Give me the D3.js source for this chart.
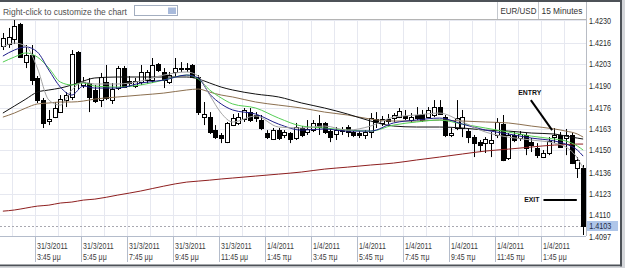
<!DOCTYPE html>
<html>
<head>
<meta charset="utf-8">
<script src="https://cdn.jsdelivr.net/npm/d3@7"></script>
<style>
body { margin: 0; background: #fff; }
svg { display: block; font-family: "Liberation Sans", Arial, sans-serif; }
</style>
</head>
<body>
<div id="chart"></div>
<script>
// 15 minute EUR/USD bars, 31/3/2011 2:15 pm .. 1/4/2011 3:30 pm
const opens = [1.42140,1.42152,1.42183,1.42275,1.42041,1.42084,1.41943,1.41807,1.41678,1.41702,
    1.41733,1.41807,1.41826,1.42103,1.41900,1.41912,1.41869,1.41807,1.41918,1.41807,
    1.41881,1.42004,1.41924,1.41893,1.41918,1.41930,1.41930,1.42029,1.41980,1.41918,
    1.41980,1.42004,1.41998,1.42023,1.41949,1.41702,1.41702,1.41622,1.41592,1.41548,
    1.41653,1.41666,1.41690,1.41733,1.41715,1.41684,1.41604,1.41567,1.41622,1.41592,
    1.41604,1.41573,1.41635,1.41610,1.41622,1.41666,1.41666,1.41616,1.41598,1.41629,
    1.41641,1.41610,1.41604,1.41592,1.41610,1.41690,1.41666,1.41690,1.41696,1.41702,
    1.41709,1.41684,1.41715,1.41721,1.41702,1.41715,1.41764,1.41702,1.41592,1.41635,
    1.41635,1.41616,1.41579,1.41548,1.41542,1.41542,1.41592,1.41659,1.41450,1.41592,
    1.41573,1.41592,1.41548,1.41512,1.41456,1.41481,1.41579,1.41592,1.41573,1.41592,
    1.41388,1.41388];
const highs = [1.42220,1.42251,1.42312,1.42282,1.42146,1.42146,1.41955,1.41820,1.41746,1.41795,
    1.41838,1.41856,1.42115,1.42109,1.41949,1.41943,1.41900,1.41974,1.42023,1.41912,
    1.42017,1.42017,1.41955,1.41943,1.42023,1.41992,1.42066,1.42035,1.42004,1.41980,
    1.42066,1.42041,1.42035,1.42029,1.41961,1.41795,1.41733,1.41653,1.41604,1.41672,
    1.41721,1.41727,1.41758,1.41758,1.41733,1.41715,1.41622,1.41635,1.41635,1.41622,
    1.41610,1.41666,1.41647,1.41684,1.41684,1.41715,1.41672,1.41629,1.41641,1.41641,
    1.41653,1.41622,1.41616,1.41622,1.41727,1.41733,1.41709,1.41721,1.41727,1.41758,
    1.41746,1.41727,1.41764,1.41746,1.41764,1.41807,1.41807,1.41715,1.41635,1.41807,
    1.41746,1.41635,1.41592,1.41561,1.41579,1.41610,1.41696,1.41715,1.41604,1.41616,
    1.41616,1.41604,1.41573,1.41542,1.41499,1.41579,1.41635,1.41610,1.41629,1.41604,
    1.41456,1.41407];
const lows = [1.42115,1.42128,1.42152,1.42066,1.42004,1.41900,1.41789,1.41635,1.41653,1.41696,
    1.41727,1.41764,1.41807,1.41869,1.41881,1.41733,1.41789,1.41764,1.41807,1.41783,
    1.41869,1.41881,1.41887,1.41881,1.41900,1.41906,1.41912,1.41980,1.41881,1.41906,
    1.41949,1.41980,1.41980,1.41943,1.41715,1.41653,1.41598,1.41567,1.41542,1.41542,
    1.41647,1.41653,1.41672,1.41672,1.41672,1.41622,1.41567,1.41561,1.41561,1.41573,
    1.41542,1.41561,1.41579,1.41592,1.41610,1.41592,1.41598,1.41548,1.41561,1.41592,
    1.41579,1.41579,1.41573,1.41567,1.41573,1.41635,1.41647,1.41659,1.41672,1.41696,
    1.41684,1.41666,1.41684,1.41672,1.41696,1.41702,1.41715,1.41579,1.41579,1.41622,
    1.41579,1.41542,1.41456,1.41487,1.41481,1.41456,1.41573,1.41431,1.41438,1.41548,
    1.41555,1.41468,1.41487,1.41450,1.41450,1.41468,1.41542,1.41512,1.41468,1.41413,
    1.41327,1.40976];
const closes = [1.42189,1.42195,1.42263,1.42072,1.42084,1.41930,1.41807,1.41666,1.41690,1.41758,
    1.41813,1.41838,1.42091,1.41918,1.41918,1.41826,1.41801,1.41949,1.41820,1.41875,
    1.42004,1.41887,1.41912,1.41924,1.41980,1.41980,1.42023,1.41992,1.41930,1.41961,
    1.42004,1.41998,1.42004,1.41949,1.41733,1.41721,1.41610,1.41579,1.41573,1.41666,
    1.41696,1.41702,1.41746,1.41684,1.41696,1.41635,1.41579,1.41622,1.41573,1.41610,
    1.41567,1.41641,1.41592,1.41629,1.41666,1.41641,1.41610,1.41579,1.41622,1.41616,
    1.41610,1.41592,1.41592,1.41610,1.41696,1.41672,1.41690,1.41678,1.41715,1.41739,
    1.41696,1.41702,1.41696,1.41684,1.41746,1.41764,1.41721,1.41592,1.41604,1.41696,
    1.41702,1.41579,1.41542,1.41530,1.41567,1.41561,1.41672,1.41438,1.41592,1.41561,
    1.41598,1.41512,1.41530,1.41468,1.41481,1.41555,1.41592,1.41518,1.41592,1.41419,
    1.41438,1.41031];

// moving average lines, read at these bar indexes
const maBars = [0,2,4,6,8,10,12,14,16,20,24,28,32,34,36,38,40,44,48,52,56,60,64,68,72,76,80,84,88,92,96,98,100,101];
const maRed = [1.41123,1.41130,1.41142,1.41154,1.41160,1.41173,1.41179,1.41191,1.41197,1.41222,1.41247,1.41277,1.41302,1.41308,1.41314,1.41321,1.41327,
    1.41339,1.41351,1.41364,1.41382,1.41394,1.41407,1.41419,1.41438,1.41456,1.41475,1.41493,1.41505,1.41518,1.41530,1.41533,1.41536,1.41536];
const maBrown = [1.41702,1.41727,1.41758,1.41783,1.41789,1.41795,1.41795,1.41801,1.41813,1.41826,1.41838,1.41850,1.41869,1.41875,1.41856,1.41838,1.41826,
    1.41795,1.41776,1.41758,1.41733,1.41715,1.41690,1.41678,1.41678,1.41684,1.41678,1.41672,1.41666,1.41647,1.41629,1.41616,1.41598,1.41579];
const maBlack = [1.41727,1.41770,1.41813,1.41856,1.41869,1.41881,1.41900,1.41924,1.41943,1.41949,1.41949,1.41949,1.41949,1.41937,1.41912,1.41887,1.41869,
    1.41844,1.41826,1.41789,1.41758,1.41721,1.41678,1.41647,1.41641,1.41641,1.41635,1.41622,1.41616,1.41604,1.41598,1.41585,1.41573,1.41567];
const maGreen = [1.42041,1.42072,1.42097,1.42072,1.42004,1.41918,1.41900,1.41912,1.41893,1.41887,1.41900,1.41930,1.41961,1.41937,1.41869,1.41820,1.41783,
    1.41758,1.41696,1.41647,1.41635,1.41622,1.41616,1.41653,1.41672,1.41684,1.41659,1.41635,1.41610,1.41585,1.41567,1.41555,1.41524,1.41499];
const maBlue = [1.42078,1.42115,1.42134,1.42103,1.41992,1.41887,1.41838,1.41893,1.41881,1.41881,1.41912,1.41930,1.41961,1.41943,1.41844,1.41783,1.41746,
    1.41721,1.41659,1.41622,1.41629,1.41616,1.41616,1.41666,1.41684,1.41696,1.41659,1.41622,1.41598,1.41573,1.41555,1.41536,1.41499,1.41462];
const maGray = [1.42134,1.42158,1.42140,1.42004,1.41807,1.41776,1.41869,1.41918,1.41906,1.41906,1.41924,1.41961,1.41980,1.41955,1.41838,1.41727,1.41672,
    1.41709,1.41641,1.41635,1.41647,1.41622,1.41647,1.41702,1.41715,1.41727,1.41672,1.41610,1.41579,1.41561,1.41542,1.41518,1.41450,1.41388];

const yTicks = [1.4097,1.4110,1.4123,1.4136,1.4150,1.4163,1.4176,1.4190,1.4203,1.4216,1.4230];
const timeTickBars = [6,14,22,30,38,46,54,62,70,78,86,94];
const timeDates = ["31/3/2011","31/3/2011","31/3/2011","31/3/2011","31/3/2011",
    "1/4/2011","1/4/2011","1/4/2011","1/4/2011","1/4/2011","1/4/2011","1/4/2011"];
const timeHours = ["3:45 μμ","5:45 μμ","7:45 μμ","9:45 μμ","11:45 μμ","1:45 πμ",
    "3:45 πμ","5:45 πμ","7:45 πμ","9:45 πμ","11:45 πμ","1:45 μμ"];

// hand drawn marks on the chart (bar index, price)
const entryNote = {label: "ENTRY", textBar: 91.7, textPrice: 1.41838, fromBar: 91.9, fromPrice: 1.41807, toBar: 95.6, toPrice: 1.41622};
const exitNote = {label: "EXIT", textBar: 93.4, textPrice: 1.41179, fromBar: 94.1, toBar: 99.9, price: 1.41191};

const W = 625, H = 268;
const plot = {left: 0, right: 586, top: 20, bottom: 236};
const nBars = opens.length;

const svg = d3.select("#chart").append("svg")
    .attr("width", W)
    .attr("height", H);

svg.append("rect").attr("width", W).attr("height", H).attr("fill", "#fff");

const x = d3.scaleLinear()
    .domain([-0.5, nBars - 0.5])
    .range([plot.left, plot.right]);
const y = d3.scaleLinear()
    .domain([yTicks[0], yTicks[yTicks.length - 1]])
    .range([plot.bottom, plot.top]);

const crisp = v => Math.round(v) + 0.5;

// text squeezed sideways like the original screen font
function label(g, tx, ty, str, sx, opts) {
    const t = g.append("text")
        .attr("transform", `translate(${tx},${ty}) scale(${sx},1)`)
        .attr("font-size", opts.size || 9.5)
        .attr("fill", opts.fill || "#333")
        .text(str);
    if (opts.bold) t.attr("font-weight", "bold");
    if (opts.anchor) t.attr("text-anchor", opts.anchor);
    return t;
}

// grid
const grid = svg.append("g");
grid.selectAll("line.v")
    .data(d3.range(2, nBars, 4))
    .enter().append("line")
    .attr("x1", d => crisp(x(d - 0.5) + 1))
    .attr("x2", d => crisp(x(d - 0.5) + 1))
    .attr("y1", plot.top).attr("y2", plot.bottom)
    .attr("stroke", "#e6e8f0");
grid.selectAll("line.h")
    .data(yTicks)
    .enter().append("line")
    .attr("x1", plot.left).attr("x2", plot.right)
    .attr("y1", d => crisp(y(d))).attr("y2", d => crisp(y(d)))
    .attr("stroke", "#e6e8f0");

svg.append("clipPath").attr("id", "clip")
    .append("rect")
    .attr("x", plot.left).attr("y", plot.top)
    .attr("width", plot.right - plot.left).attr("height", plot.bottom - plot.top);

const body = svg.append("g").attr("clip-path", "url(#clip)");

// last price dotted line
const last = closes[nBars - 1];
body.append("line")
    .attr("x1", plot.left).attr("x2", plot.right)
    .attr("y1", crisp(y(last))).attr("y2", crisp(y(last)))
    .attr("stroke", "#a8a8b0")
    .attr("stroke-dasharray", "2,2");

// candles
const bars = d3.range(nBars);
const candle = body.selectAll("g.candle")
    .data(bars)
    .enter().append("g");
candle.append("line")
    .attr("x1", i => crisp(x(i))).attr("x2", i => crisp(x(i)))
    .attr("y1", i => y(highs[i])).attr("y2", i => y(lows[i]))
    .attr("stroke", "#000");
candle.append("rect")
    .attr("x", i => Math.round(x(i)) - 2 + 0.5)
    .attr("width", 4)
    .attr("y", i => Math.round(y(Math.max(opens[i], closes[i]))) + 0.5)
    .attr("height", i => Math.max(1, Math.round(y(Math.min(opens[i], closes[i]))) - Math.round(y(Math.max(opens[i], closes[i])))))
    .attr("fill", i => closes[i] >= opens[i] ? "#fff" : "#000")
    .attr("stroke", "#000");

// moving averages
const maSeries = [
    {values: maRed, color: "#8e1f1f"},
    {values: maBrown, color: "#8c7050"},
    {values: maBlack, color: "#111"},
    {values: maGreen, color: "#55cf55"},
    {values: maBlue, color: "#1f1f8a"},
    {values: maGray, color: "#a4a4a4"}
];
const line = d3.line()
    .x(d => x(d[0]))
    .y(d => y(d[1]))
    .curve(d3.curveMonotoneX);
body.selectAll("path.ma")
    .data(maSeries)
    .enter().append("path")
    .attr("d", s => line(maBars.map((b, i) => [b, s.values[i]])))
    .attr("fill", "none")
    .attr("stroke", s => s.color)
    .attr("stroke-width", 1);

// annotations
const notes = svg.append("g");
label(notes, x(entryNote.textBar), y(entryNote.textPrice), entryNote.label, 0.92, {size: 7.5, bold: true, fill: "#111", anchor: "middle"});
notes.append("line")
    .attr("x1", x(entryNote.fromBar)).attr("y1", y(entryNote.fromPrice))
    .attr("x2", x(entryNote.toBar)).attr("y2", y(entryNote.toPrice))
    .attr("stroke", "#000").attr("stroke-width", 2);
label(notes, x(exitNote.textBar), y(exitNote.textPrice), exitNote.label, 0.92, {size: 7.5, bold: true, fill: "#111", anchor: "end"});
notes.append("line")
    .attr("x1", x(exitNote.fromBar)).attr("x2", x(exitNote.toBar))
    .attr("y1", y(exitNote.price)).attr("y2", y(exitNote.price))
    .attr("stroke", "#000").attr("stroke-width", 2);

// frame lines
svg.append("line")
    .attr("x1", plot.left).attr("x2", plot.right)
    .attr("y1", crisp(plot.bottom)).attr("y2", crisp(plot.bottom))
    .attr("stroke", "#b4bccb");
svg.append("line")
    .attr("x1", crisp(plot.right)).attr("x2", crisp(plot.right))
    .attr("y1", 0).attr("y2", plot.bottom)
    .attr("stroke", "#b8bcc4");

// right price axis
const yAxis = svg.append("g").attr("transform", `translate(${plot.right}, 0)`);
yAxis.call(d3.axisRight(y).tickValues(yTicks).tickFormat(d3.format(".4f")).tickSize(0).tickPadding(3));
yAxis.select(".domain").remove();
yAxis.selectAll("text")
    .attr("font-family", "Liberation Sans, Arial, sans-serif")
    .attr("font-size", 9.5)
    .attr("fill", "#2a2a2a")
    .attr("x", 3 / 0.76)
    .attr("transform", "scale(0.76,1)");

// current price box
const priceBox = svg.append("g").attr("transform", `translate(${plot.right + 1}, ${Math.round(y(last))})`);
priceBox.append("rect")
    .attr("x", 0).attr("y", -5).attr("width", 31).attr("height", 10)
    .attr("fill", "#afc6e9");
label(priceBox, 2.3, 3.4, d3.format(".4f")(last), 0.76, {fill: "#1d2a44"});

// time axis
const tAxis = svg.append("g");
const tick = tAxis.selectAll("g")
    .data(timeTickBars)
    .enter().append("g")
    .attr("transform", d => `translate(${crisp(x(d - 0.5) + 1)}, ${plot.bottom})`);
tick.append("line")
    .attr("y1", 0).attr("y2", 26)
    .attr("stroke", "#b4bccb");
tick.each(function (d, i) {
    const g = d3.select(this);
    label(g, 1.5, 13, timeDates[i], 0.74, {fill: "#3a3a3a"});
    label(g, 1.5, 23.5, timeHours[i], 0.74, {fill: "#3a3a3a"});
});

// header bar
const head = svg.append("g");
head.append("rect").attr("x", 0).attr("y", 0).attr("width", W).attr("height", 2).attr("fill", "#4d5258");
head.append("line")
    .attr("x1", 0).attr("x2", plot.right)
    .attr("y1", 19.5).attr("y2", 19.5)
    .attr("stroke", "#b4b4b4");
label(head, 3, 14.5, "Right-click to customize the chart", 0.89, {fill: "#505050"});
head.append("rect")
    .attr("x", 134.5).attr("y", 5.5).attr("width", 43).attr("height", 10)
    .attr("fill", "#fff").attr("stroke", "#a3aec0");
head.append("rect")
    .attr("x", 168).attr("y", 7.5).attr("width", 8).attr("height", 6.5)
    .attr("fill", "#a8badb");
[497.5, 538.5].forEach(function (sx) {
    head.append("line")
        .attr("x1", sx).attr("x2", sx).attr("y1", 2).attr("y2", 19)
        .attr("stroke", "#c4c8ce");
});
label(head, 500.5, 14, "EUR/USD", 0.84, {fill: "#333"});
label(head, 541.5, 14, "15 Minutes", 0.88, {fill: "#333"});

// outer window frame
svg.append("rect").attr("x", 620).attr("y", 0).attr("width", 2).attr("height", H).attr("fill", "#4d5258");
svg.append("rect").attr("x", 622).attr("y", 0).attr("width", 3).attr("height", H).attr("fill", "#d4d6da");
svg.append("rect").attr("x", 0).attr("y", 264.5).attr("width", 622).attr("height", 2).attr("fill", "#4d5258");
svg.append("rect").attr("x", 0).attr("y", 266.5).attr("width", W).attr("height", 1.5).attr("fill", "#d4d6da");
</script>
</body>
</html>
